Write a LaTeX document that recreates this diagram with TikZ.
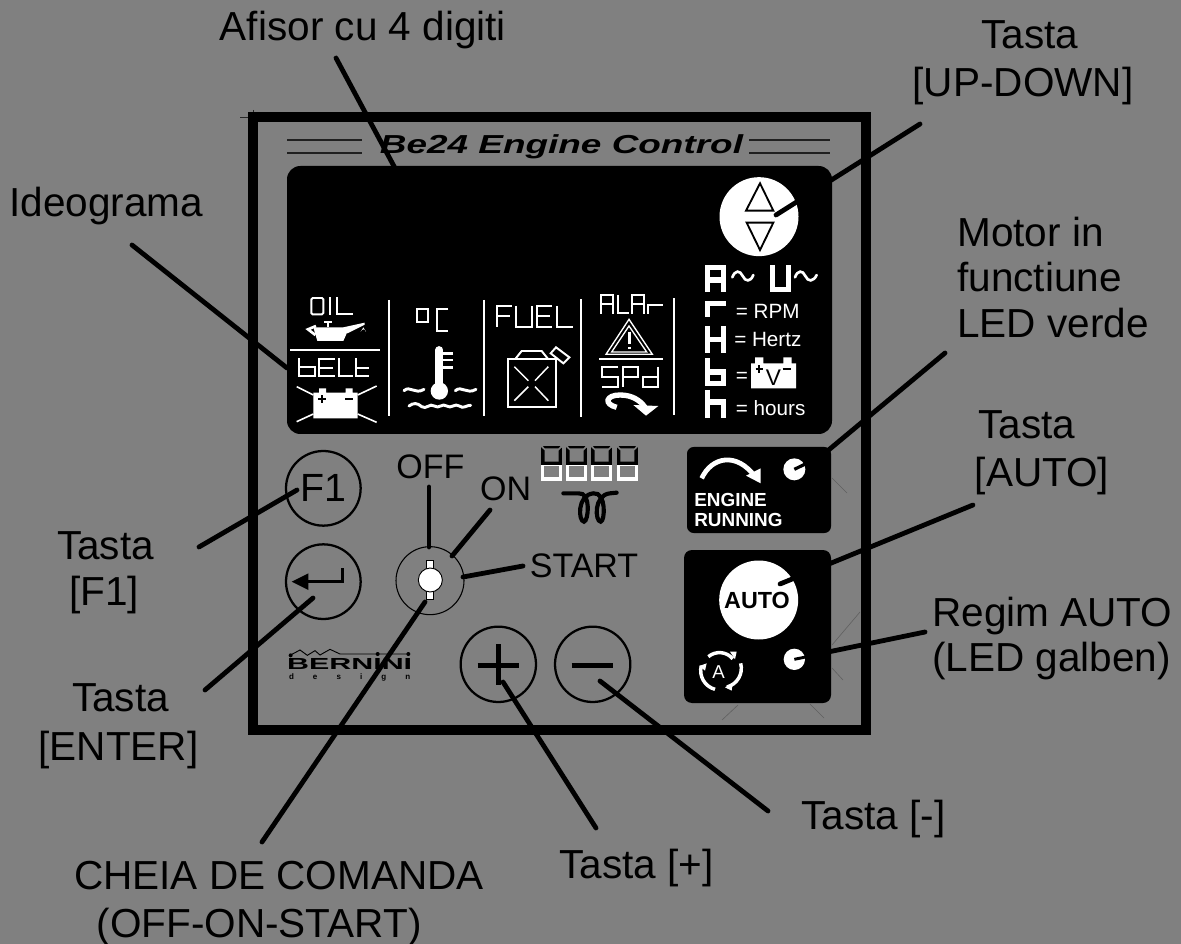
\documentclass[tikz,border=0pt]{standalone}
\usepackage{fontspec}
\usepackage{graphicx}
\setmainfont{Liberation Sans}
\tikzset{
  lbl/.style={font=\fontsize{30.4}{30.4}\selectfont,anchor=base,inner sep=0pt,text=black},
  lead/.style={draw=black,line width=3.6pt,line cap=round},
  keyring/.style={draw=black,line width=1.7pt},
  wl/.style={draw=white,line width=1.45pt},
  seg/.style={draw=white,line width=4.2pt},
  small/.style={font=\fontsize{15.5}{15.5}\selectfont,text=white,anchor=base west,inner sep=0pt},
  faint/.style={draw=black!25!gray,line width=0.45pt},
  zone/.style={shift={(#1)},x=0.25pt,y=-0.25pt},
}
\begin{document}
\begin{tikzpicture}[x=0.75pt,y=-0.75pt]
\useasboundingbox (0,0) rectangle (1181,944);
\fill[fill={rgb,255:red,128;green,128;blue,128}] (0,0) rectangle (1181,944);

% faint construction marks
\draw[faint] (832,478)--(847,493) (832,668)--(843,680) (810,704)--(824,718) (738,705)--(722,720) (832,645)--(860,612);
\draw[black!70!gray,line width=0.6pt] (240,117)--(252,117) (253,110)--(253,116);

% panel
\node[draw=black,line width=7.1pt,outer sep=0pt,minimum width=613*0.75pt,minimum height=613*0.75pt,inner sep=0pt,anchor=north west] (panel) at (253,117) {};
\draw[black!75!gray,line width=0.9pt] (287,140)--(362,140) (287,153)--(362,153) (749,140)--(830,140) (749,153)--(830,153);
\node[anchor=base,inner sep=0pt,font=\fontsize{19.5}{19.5}\selectfont\bfseries\itshape] (title) at (561.5,153.5) {\scalebox{1.42}[1]{Be24 Engine Control}};

% black boxes
\node[fill=black,rounded corners=10pt,minimum width=545*0.75pt,minimum height=268*0.75pt,inner sep=0pt,outer sep=0pt,anchor=north west] (display) at (287,166) {};
\node[fill=black,rounded corners=5pt,minimum width=144*0.75pt,minimum height=86*0.75pt,inner sep=0pt,outer sep=0pt,anchor=north west] (engbox) at (687,447) {};
\node[fill=black,rounded corners=6pt,minimum width=147*0.75pt,minimum height=153*0.75pt,inner sep=0pt,outer sep=0pt,anchor=north west] (autobox) at (684,550) {};

% ---------- zoom 1 ---------- left part of display
\begin{scope}[zone={280,270}]
  % OIL
  \draw[wl,rounded corners=1pt] (94,84) rectangle (130,133);
  \draw[wl] (150,82)--(150,135) (172,82)--(172,133)--(220,133);
  % oil can
  \fill[white] (100,172)--(208,172)--(190,213)--(112,213)--cycle;
  \fill[white] (190,172)--(254,158)--(254,164)--(202,190)--cycle;
  \draw[white,line width=2pt] (133,156)--(157,156) (144,156)--(144,172);
  \draw[white,line width=2pt] (108,168)--(84,178)--(106,195);
  \fill[white] (250,172)--(258,186) arc (0:-180:8)--cycle;
  \draw[white,line width=1.7pt] (30,240)--(300,240);
  % bELt
  \draw[wl] (58,265)--(58,318)--(105,318)--(105,290)--(58,290);
  \draw[wl] (165,268)--(118,268)--(118,318)--(165,318) (118,293)--(160,293);
  \draw[wl] (178,265)--(178,318)--(218,318);
  \draw[wl] (228,265)--(228,318)--(268,318) (228,293)--(268,293);
  % battery
  \fill[white] (100,368) rectangle (233,445) (117,355) rectangle (138,368) (197,355) rectangle (218,368);
  \draw[black,line width=1.6pt] (115,387)--(139,387) (127,376)--(127,398) (196,387)--(220,387);
  \draw[white,line width=1.2pt] (50,350)--(100,375) (290,348)--(233,375) (50,455)--(100,432) (290,457)--(233,432);
  \draw[white,line width=1.7pt] (328,90)--(328,437) (613,90)--(613,437);
  % degrees C
  \draw[wl] (410,118) rectangle (445,155) (505,118)--(470,118)--(470,182)--(505,182);
  % thermometer
  \draw[white,line width=5.8pt,line cap=round] (478,240)--(478,350);
  \fill[white] (478,363) circle[radius=26];
  \draw[white,line width=2pt] (490,250)--(520,250) (490,270)--(520,270) (490,292)--(520,292);
  \draw[white,line width=2.2pt,line cap=round] (372,362) .. controls (390,345) and (405,375) .. (432,358);
  \draw[white,line width=2.2pt,line cap=round] (526,362) .. controls (545,345) and (560,375) .. (588,358);
  \draw[white,line width=2.2pt,line cap=round] (387,408) .. controls (400,398) and (412,398) .. (425,410) .. controls (438,420) and (450,398) .. (463,408) .. controls (476,418) and (488,398) .. (500,408) .. controls (513,418) and (525,398) .. (538,408) .. controls (550,418) and (560,405) .. (572,406);
  % FUEL
  \draw[wl] (650,170)--(650,108)--(695,108) (650,138)--(690,138);
  \draw[wl] (708,108)--(708,170)--(755,170)--(755,108);
  \draw[wl] (815,108)--(770,108)--(770,170)--(815,170) (770,138)--(810,138);
  \draw[wl] (830,108)--(830,170)--(880,170);
  % can
  \draw[wl] (683,268) rectangle (828,412);
  \draw[wl] (705,268)--(725,243)--(785,243)--(805,268);
  \draw[wl] (812,250)--(828,232)--(868,262)--(850,280)--cycle;
  \draw[white,line width=1.1pt] (703,290)--(745,332) (805,290)--(765,332) (703,392)--(745,350) (805,392)--(765,350);
\end{scope}

% ---------- zoom 2 ---------- right part of display
\begin{scope}[zone={570,170}]
  \draw[white,line width=1.7pt] (34,388)--(34,740) (313,385)--(313,735);
  % ALAr
  \draw[wl] (92,432)--(92,375)--(130,375)--(130,432) (92,403)--(130,403);
  \draw[wl] (145,375)--(145,430)--(178,430);
  \draw[wl] (187,432)--(187,375)--(222,375)--(222,432) (187,403)--(222,403);
  \draw[wl] (235,432)--(235,404)--(278,404);
  % warning
  \draw[white,line width=1pt] (177,448)--(108,553)--(247,553)--cycle (177,468)--(125,546)--(230,546)--cycle;
  \draw[white,line width=2.4pt] (178,485)--(178,522) (178,530)--(178,538);
  \draw[white,line width=1.6pt] (88,568)--(280,568);
  % SPd
  \draw[wl] (145,592)--(95,592)--(95,620)--(145,620)--(145,650)--(95,650);
  \draw[wl] (158,650)--(158,592)--(205,592)--(205,620)--(158,620);
  \draw[wl] (265,590)--(265,650)--(218,650)--(218,620)--(265,620);
  % curved arrow
  \draw[white,line width=4pt] (140,712) .. controls (100,702) and (108,675) .. (150,675) .. controls (185,675) and (210,690) .. (225,712);
  \fill[white] (190,705)--(265,708)--(228,737)--cycle;
  % big seven-seg letters
  \draw[seg] (413,365)--(413,292)--(460,292)--(460,365) (413,330)--(460,330);
  \draw[seg] (607,285)--(607,358)--(656,358)--(656,285);
  \draw[seg] (413,440)--(413,400)--(468,400);
  \draw[seg] (413,468)--(413,548) (460,468)--(460,548) (413,508)--(460,508);
  \draw[seg] (413,565)--(413,640)--(460,640)--(460,606)--(413,606);
  \draw[seg] (413,660)--(413,745) (413,696)--(460,696)--(460,745);
  \draw[white,line width=2pt,line cap=round] (487,322) .. controls (495,300) and (510,300) .. (518,318) .. controls (526,336) and (542,336) .. (550,315);
  \draw[white,line width=2pt,line cap=round] (675,322) .. controls (683,300) and (698,300) .. (706,318) .. controls (714,336) and (730,336) .. (740,315);
  \node[small] (trpm) at (497,445) {= RPM};
  \node[small] (thz) at (492,530) {= Hertz};
  \node[small] (tvb) at (497,637) {=};
  \node[small] (thr) at (497,737) {= hours};
  % battery V
  \fill[white] (543,580) rectangle (678,655) (555,562) rectangle (580,580) (640,562) rectangle (665,580);
  \draw[black,line width=1.5pt] (557,597)--(580,597) (568,586)--(568,608) (638,597)--(662,597);
  \node[font=\fontsize{17}{17}\selectfont,text=black,inner sep=0pt] (tv) at (610,624) {V};
  % up-down button
  \node[circle,fill=white,minimum size=59.25pt,inner sep=0pt] (updown) at (567,140) {};
  \draw[black,line width=1.4pt] (570,40)--(528,122)--(610,122)--cycle (530,158)--(610,158)--(570,240)--cycle;
\end{scope}

% ---------- zoom 3 ---------- engine and auto
\begin{scope}[zone={670,430}]
  \draw[white,line width=3.6pt] (95,145) .. controls (125,80) and (200,65) .. (255,140);
  \fill[white] (272,115)--(272,160)--(228,137)--cycle;
  \node[circle,fill=white,minimum size=16.5pt,inner sep=0pt] (ledrun) at (373,118) {};
  \draw[black,line width=2.4pt] (373,118)--(410,100);
  \node[font=\fontsize{14.2}{14.2}\selectfont\bfseries,text=white,anchor=base west,inner sep=0pt] (teng) at (72,228) {ENGINE};
  \node[font=\fontsize{14.2}{14.2}\selectfont\bfseries,text=white,anchor=base west,inner sep=0pt] (trun) at (72,290) {RUNNING};
  \node[circle,fill=white,minimum size=59.25pt,inner sep=0pt] (autob) at (266,510) {};
  \node[font=\fontsize{17.5}{17.5}\selectfont\bfseries,text=black,anchor=base,inner sep=0pt] (tauto) at (261,535) {AUTO};
  \node[circle,fill=white,minimum size=16pt,inner sep=0pt] (ledauto) at (373,688) {};
  \draw[black,line width=2.2pt] (373,688)--(412,680);
  % auto cycle
  \draw[white,line width=2.6pt] (115,680) arc (-130:-40:52);
  \draw[white,line width=2.6pt] (212,700) arc (-15:75:58);
  \draw[white,line width=2.6pt] (135,778) arc (105:195:58);
  \fill[white] (180,665)--(200,665)--(195,688)--cycle;
  \fill[white] (165,772)--(188,758)--(185,782)--cycle;
  \fill[white] (88,708)--(110,700)--(105,722)--cycle;
  \node[font=\fontsize{14}{14}\selectfont,text=white,inner sep=0pt] (ta) at (146,727) {A};
\end{scope}

% ---------- zoom 4 ---------- controls
\begin{scope}[zone={270,430}]
  \node[circle,keyring,minimum size=56pt,inner sep=0pt,font=\fontsize{29.5}{29.5}\selectfont] (f1) at (160,175) {F1};
  \node[circle,keyring,minimum size=56pt,inner sep=0pt] (enter) at (160,455) {};
  \fill[black] (65,455)--(115,430)--(115,480)--cycle;
  \draw[black,line width=1.8pt] (110,455)--(218,455)--(218,415);
  \node[circle,draw=black,line width=0.8pt,minimum size=51pt,inner sep=0pt] (key) at (480,452) {};
  \draw[black,line width=0.7pt,fill=white] (470,390) rectangle (490,415) (470,483) rectangle (490,508);
  \node[circle,draw=black,line width=0.7pt,fill=white,minimum size=18pt,inner sep=0pt] (keyc) at (481,450) {};
  \node[circle,keyring,minimum size=56.5pt,inner sep=0pt] (plus) at (685,703) {};
  \node[circle,keyring,minimum size=56.5pt,inner sep=0pt] (minus) at (968,703) {};
  \draw[black,line width=3.4pt] (623,706)--(747,706) (685,643)--(685,765) (905,706)--(1030,706);
  % logo
  \draw[black,line width=0.7pt] (62,675)--(90,660)--(112,676)--(135,662)--(150,675)--(180,658)--(210,672)--(415,672);
  \fill[black] (62,676) circle[radius=6] (323,672) circle[radius=6] (415,672) circle[radius=6];
  \node[font=\fontsize{12}{12}\selectfont\bfseries,anchor=base,inner sep=0pt] (bern) at (239,718) {\scalebox{1.9}[1]{BERNINI}};
  \node[font=\fontsize{6}{6}\selectfont\bfseries,anchor=base,inner sep=0pt] (desg) at (239,747) {\makebox[91pt]{d\hfill e\hfill s\hfill i\hfill g\hfill n}};
  % texts
  \node[font=\fontsize{25.5}{25.5}\selectfont,anchor=base,inner sep=0pt] (toff) at (481,147) {OFF};
  \node[font=\fontsize{25.5}{25.5}\selectfont,anchor=base,inner sep=0pt] (ton) at (707,212) {ON};
  \node[font=\fontsize{25.5}{25.5}\selectfont,anchor=base,inner sep=0pt] (tstart) at (942,442) {START};
  % coil
  \draw[black,line width=3.1pt,line cap=round] (880,190)--(925,190) .. controls (965,185) and (955,275) .. (942,275) .. controls (925,275) and (920,195) .. (970,190) .. controls (1010,185) and (1005,275) .. (992,275) .. controls (975,275) and (970,195) .. (1020,190)--(1040,188);
\end{scope}
% digits
\begin{scope}[zone={530,435}]
  \foreach \dx in {33,108,183,260}{
    \begin{scope}[xshift=\dx*0.25pt]
      \fill[black] (0,33) rectangle (64,82);
      \fill[white] (0,85) rectangle (64,137);
      \fill[fill={rgb,255:red,128;green,128;blue,128}] (0,33)--(5,33)--(11,40)--(53,40)--(59,33)--(64,33)--(64,36)--(53,46)--(53,80)--(11,80)--(11,46)--(0,36)--cycle;
      \fill[fill={rgb,255:red,128;green,128;blue,128}] (9,92) rectangle (55,127);
      \fill[black] (0,80) rectangle (64,91);
    \end{scope}
  }
\end{scope}

% labels
\node[lbl] (lafis) at (363,41) {Afisor cu 4 digiti};
\node[lbl] (lup1) at (1030,49) {Tasta};
\node[lbl] (lup2) at (1023,97) {[UP-DOWN]};
\node[lbl,anchor=base west] (lideo) at (9,217) {Ideograma};
\node[lbl,anchor=base west] (lmot1) at (957,247) {Motor in};
\node[lbl,anchor=base west] (lmot2) at (957,292) {functiune};
\node[lbl,anchor=base west] (lmot3) at (957,338) {LED verde};
\node[lbl] (lau1) at (1027,439) {Tasta};
\node[lbl] (lau2) at (1042,486) {[AUTO]};
\node[lbl,anchor=base west] (lreg1) at (932,626) {Regim AUTO};
\node[lbl,anchor=base west] (lreg2) at (932,671) {(LED galben)};
\node[lbl] (lf1a) at (105.5,559) {Tasta};
\node[lbl] (lf1b) at (104,605) {[F1]};
\node[lbl] (lena) at (120.5,711) {Tasta};
\node[lbl] (lenb) at (118.5,760) {[ENTER]};
\node[lbl] (lkey1) at (279,889) {CHEIA DE COMANDA};
\node[lbl] (lkey2) at (259,937) {(OFF-ON-START)};
\node[lbl] (lplus) at (636.5,878) {Tasta [+]};
\node[lbl] (lminus) at (873.5,829) {Tasta [-]};

% leader ends
\coordinate (cafis) at (336,58);   \coordinate (eafis) at (396,170);
\coordinate (cup) at (920,124);    \coordinate (eup) at (776,215);
\coordinate (cideo) at (132,245);  \coordinate (eideo) at (287,368);
\coordinate (cmot) at (945,353);   \coordinate (emot) at (825,453);
\coordinate (cauto) at (973,505);  \coordinate (eauto) at (780,584);
\coordinate (creg) at (925,632);   \coordinate (ereg) at (828,652);
\coordinate (cf1) at (199,547);    \coordinate (ef1) at (297,490);
\coordinate (cen) at (205,690);    \coordinate (een) at (313,598);
\coordinate (ckey) at (262,842);   \coordinate (ekey) at (425,602);
\coordinate (cplus) at (596,828);  \coordinate (eplus) at (503,682);
\coordinate (cminus) at (768,811); \coordinate (eminus) at (600,681);
\coordinate (coff) at (429,487);   \coordinate (eoff) at (429,547);
\coordinate (con) at (490,510);    \coordinate (eon) at (452,556);
\coordinate (cst) at (523,566);    \coordinate (est) at (463,577);

\draw[lead] (cafis)--(eafis);
\draw[lead] (cup)--(eup);
\draw[lead] (cideo)--(eideo);
\draw[lead] (cmot)--(emot);
\draw[lead] (cauto)--(eauto);
\draw[lead] (creg)--(ereg);
\draw[lead] (cf1)--(ef1);
\draw[lead] (cen)--(een);
\draw[lead] (ckey)--(ekey);
\draw[lead] (cplus)--(eplus);
\draw[lead] (cminus)--(eminus);
\draw[lead] (coff)--(eoff);
\draw[lead] (con)--(eon);
\draw[lead] (cst)--(est);
\end{tikzpicture}
\end{document}
